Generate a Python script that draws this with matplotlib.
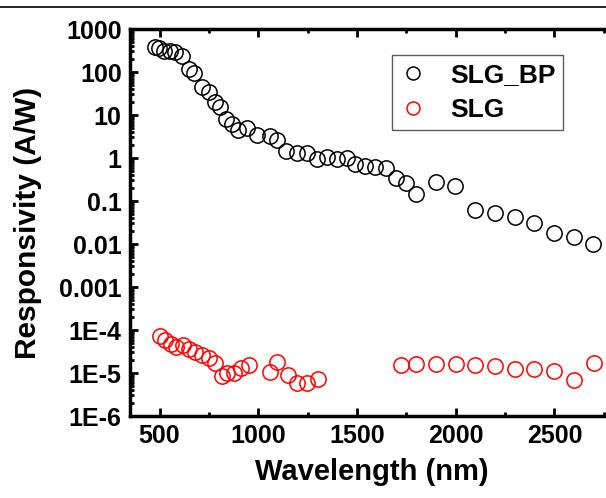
# responsivity_plot.py
# SLG_BP vs SLG responsivity over wavelength (log scale)

import matplotlib
matplotlib.use("Agg")
from matplotlib import pyplot as plt
from matplotlib.ticker import LogLocator, NullFormatter, FixedLocator, MultipleLocator

plt.rcParams['font.family'] = ['Liberation Sans', 'DejaVu Sans']
plt.rcParams['font.weight'] = 'bold'

# SLG_BP (black open circles)
bp_wavelength = [478, 495, 520, 551, 579, 613, 647, 676, 715, 748, 782, 807,
                 838, 867, 895, 943, 993, 1057, 1097, 1140, 1196, 1246, 1297,
                 1348, 1398, 1449, 1491, 1542, 1592, 1648, 1699, 1749, 1800,
                 1901, 1999, 2100, 2200, 2299, 2399, 2500, 2598, 2697]
bp_responsivity = [387, 356, 313, 313, 287, 236, 115, 93, 45.5, 34.8, 20.4, 15.5,
                   7.9, 6.2, 4.5, 4.9, 3.4, 3.25, 2.6, 1.45, 1.33, 1.33, 0.93,
                   1.07, 0.93, 0.98, 0.72, 0.65, 0.63, 0.576, 0.348, 0.267, 0.143,
                   0.281, 0.227, 0.061, 0.053, 0.043, 0.030, 0.0177, 0.0148, 0.0100]

# SLG (red open circles)
slg_wavelength = [500, 529, 558, 585, 618, 647, 681, 715, 748, 782, 816, 843,
                  878, 911, 951, 1057, 1097, 1148, 1196, 1246, 1300,
                  1722, 1800, 1900, 2001, 2099, 2200, 2299, 2399, 2499, 2598, 2700]
slg_responsivity = [7.2e-5, 5.85e-5, 4.65e-5, 4.09e-5, 4.48e-5, 3.56e-5, 3.13e-5,
                    2.62e-5, 2.2e-5, 1.74e-5, 8.5e-6, 9.8e-6, 1.02e-5, 1.29e-5,
                    1.53e-5, 1.07e-5, 1.83e-5, 8.98e-6, 5.75e-6, 5.75e-6, 7.13e-6,
                    1.53e-5, 1.59e-5, 1.59e-5, 1.6e-5, 1.53e-5, 1.46e-5, 1.24e-5,
                    1.24e-5, 1.11e-5, 6.87e-6, 1.68e-5]

y_ticks = [1e3, 1e2, 1e1, 1, 0.1, 0.01, 0.001, 1e-4, 1e-5, 1e-6]
y_tick_labels = ['1000', '100', '10', '1', '0.1', '0.01', '0.001', '1E-4', '1E-5', '1E-6']

fig = plt.figure(figsize=(6.06, 4.98), dpi=100)
# axes run off the right edge, like the cropped original
ax_w = 613.6 - 130
ax_h = 416 - 29
ax = fig.add_axes([130 / 606, 1 - 416 / 498, ax_w / 606, ax_h / 498])

marker_style = dict(linestyle='none', marker='o', markersize=11,
                    markerfacecolor='none', markeredgewidth=1.1)
ax.plot(bp_wavelength, bp_responsivity, markeredgecolor='black',
        label='SLG_BP', **marker_style)
ax.plot(slg_wavelength, slg_responsivity, markeredgecolor='red',
        label='SLG', **marker_style)

ax.set_yscale('log')
ax.set_xlim(350, 2800)
ax.set_ylim(1e-6, 1e3)

ax.xaxis.set_major_locator(FixedLocator([500, 1000, 1500, 2000, 2500]))
ax.xaxis.set_minor_locator(MultipleLocator(250))
ax.yaxis.set_major_locator(FixedLocator(y_ticks))
ax.set_yticklabels(y_tick_labels)
ax.yaxis.set_minor_locator(LogLocator(base=10, subs=range(2, 10), numticks=20))
ax.yaxis.set_minor_formatter(NullFormatter())

ax.tick_params(which='both', direction='in', top=True, right=False, width=2,
               labelsize=18, pad=6)
ax.tick_params(which='major', length=6)
ax.tick_params(which='minor', length=3)
for lab in ax.get_xticklabels() + ax.get_yticklabels():
    lab.set_fontweight('bold')

for side in ['left', 'bottom', 'top']:
    ax.spines[side].set_linewidth(2.5)
ax.spines['right'].set_visible(False)

ax.set_xlabel('Wavelength (nm)', fontsize=21, fontweight='bold', labelpad=7)
ax.set_ylabel('Responsivity (A/W)', fontsize=21.5, fontweight='bold', labelpad=12)

leg = ax.legend(loc='upper left',
                bbox_to_anchor=((392 - 130) / ax_w, 1 - (55 - 29) / ax_h),
                borderaxespad=0, fontsize=19, frameon=True, fancybox=False,
                handlelength=1.0, handletextpad=0.9, borderpad=0.3,
                labelspacing=0.42, markerscale=0.85)
leg.get_frame().set_edgecolor('#333333')
leg.get_frame().set_linewidth(1.0)
for t in leg.get_texts():
    t.set_fontweight('bold')

# thin rule at the very top, remnant of the cropped caption
fig.add_artist(plt.Line2D([0, 1], [1 - 7 / 498, 1 - 7 / 498], color='black', linewidth=1.2))

fig.savefig('out.png', dpi=100)
